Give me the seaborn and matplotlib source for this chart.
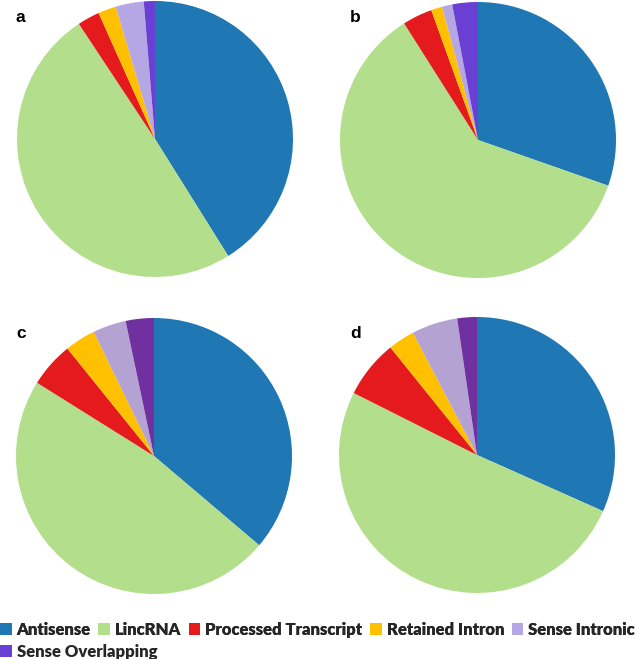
import matplotlib
matplotlib.use("Agg")
import matplotlib.pyplot as plt
import seaborn as sns
from matplotlib.patches import Patch

sns.set_theme(style="white")
plt.rcParams['font.family'] = ['Lato', 'DejaVu Sans']

categories = ["Antisense", "LincRNA", "Processed Transcript", "Retained Intron",
              "Sense Intronic", "Sense Overlapping"]
panel_labels = ["a", "b", "c", "d"]
values_a = [41.1, 49.6, 2.6, 2.1, 3.3, 1.3]
values_b = [30.4, 60.7, 3.5, 1.3, 1.2, 3.0]
values_c = [36.2, 47.7, 5.3, 3.6, 3.9, 3.3]
values_d = [31.7, 50.8, 6.8, 3.1, 5.4, 2.3]
all_values = [values_a, values_b, values_c, values_d]

colors_ab = ["#1F77B4", "#B3DE8C", "#E41A1C", "#FFC000", "#B4A7E4", "#6A3FD4"]
colors_cd = ["#1F77B4", "#B3DE8C", "#E41A1C", "#FFC000", "#B4A3D2", "#7030A0"]
panel_colors = [colors_ab, colors_ab, colors_cd, colors_cd]

W, H = 637, 659
fig = plt.figure(figsize=(W / 100, H / 100), dpi=100)
fig.patch.set_facecolor("white")

centers = [(155, 139), (478, 140), (154, 456), (477, 455)]
R = 138
label_pos = [(16, 17), (350, 17), (16, 334), (350, 334)]

for vals, cols, (cx, cy), lab, (lx, ly) in zip(all_values, panel_colors, centers,
                                             panel_labels, label_pos):
    ax = fig.add_axes([(cx - R) / W, 1 - (cy + R) / H, 2 * R / W, 2 * R / H])
    ax.pie(vals, colors=cols, startangle=90, counterclock=False, radius=1,
           wedgeprops=dict(linewidth=0))
    ax.set_xlim(-1, 1)
    ax.set_ylim(-1, 1)
    ax.set_aspect("equal")
    ax.axis("off")
    fig.text(lx / W, 1 - ly / H, lab, fontsize=12.5, fontweight="bold",
             family=['Liberation Sans', 'DejaVu Sans'],
             ha="left", va="center", color="black")

handles = [Patch(facecolor=c, edgecolor="none") for c in colors_ab]
legend_font = dict(family=['Lato', 'DejaVu Sans'], weight="heavy", size=12)
leg1 = fig.legend(handles[:5], categories[:5], loc="center left", ncol=5,
                  bbox_to_anchor=(0.0, 1 - 630 / H), frameon=False,
                  prop=legend_font,
                  handlelength=0.7, handleheight=0.7, handletextpad=0.3,
                  columnspacing=0.45, borderaxespad=0, borderpad=0)
fig.add_artist(leg1)
leg2 = fig.legend(handles[5:], categories[5:], loc="center left", ncol=1,
                  bbox_to_anchor=(0.0, 1 - 652 / H), frameon=False,
                  prop=legend_font,
                  handlelength=0.7, handleheight=0.7, handletextpad=0.3,
                  borderaxespad=0, borderpad=0)

fig.savefig("out.png", dpi=100, facecolor="white")
